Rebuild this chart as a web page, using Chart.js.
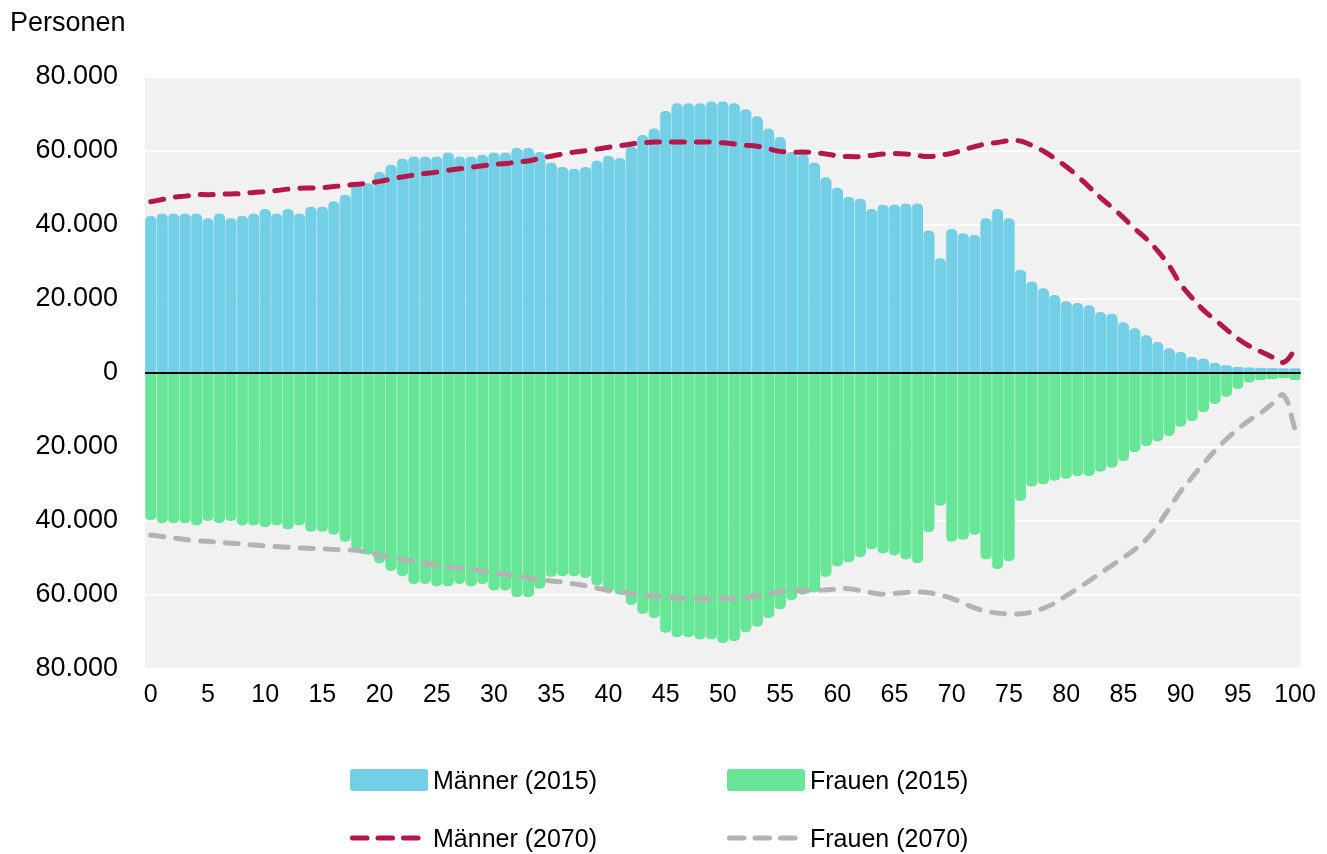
<!DOCTYPE html>
<html>
<head>
<meta charset="utf-8">
<script src="https://cdn.jsdelivr.net/npm/chart.js@4.4.1/dist/chart.umd.min.js"></script>
<style>
  html, body { margin: 0; padding: 0; background: #fff; }
  body { width: 1327px; height: 854px; position: relative; overflow: hidden;
         font-family: "Liberation Sans", Arial, Helvetica, sans-serif; color: #000; }
  #wrap { position: absolute; left: 0; top: 0; width: 1327px; height: 854px; }
  .lg { position: absolute; font-size: 25px; line-height: 28px; white-space: nowrap; }
  .box { position: absolute; width: 78px; height: 22px; border-radius: 3px; }
  .ln { position: absolute; width: 80px; height: 10px; }
</style>
</head>
<body>
<div id="wrap"><canvas id="c" width="1327" height="854"></canvas></div>

<div class="box" id="b1" style="left:350px; top:769px;"></div>
<div class="lg" id="t1" style="left:433px; top:766px;"></div>
<div class="box" id="b2" style="left:727px; top:769px;"></div>
<div class="lg" id="t2" style="left:810px; top:766px;"></div>
<svg class="ln" id="l3" style="left:348px; top:833px;" width="80" height="10"></svg>
<div class="lg" id="t3" style="left:433px; top:824px;"></div>
<svg class="ln" id="l4" style="left:725px; top:833px;" width="80" height="10"></svg>
<div class="lg" id="t4" style="left:810px; top:824px;"></div>

<script>
// ---------- data ----------
const ages = Array.from({length: 101}, (_, i) => String(i));

const men2015 = [42400,43100,43100,43100,43100,41800,43100,41800,42500,43100,
  44300,43100,44300,43100,44900,44900,46400,48200,51100,51300,
  54300,56300,57900,58500,58500,58500,59600,58500,58500,59000,
  59600,59600,60800,60800,59700,56900,55700,55200,55700,57400,
  58700,58100,61300,64300,66100,70800,72900,72900,72900,73400,
  73400,72900,71300,69400,66100,63800,59700,59200,56900,52900,
  50100,47600,47100,44300,45500,45500,45800,45800,38500,31000,
  38900,37800,37300,41800,44300,41800,27900,24700,22900,21100,
  19400,18900,18300,16500,16000,13700,12100,10200,8400,6700,
  5700,4400,3900,2800,2100,1600,1500,1400,1400,1300,1300];

const women2015 = [39800,40600,40600,40600,41200,40000,40600,40000,41200,41200,
  41700,41200,42300,41200,42900,42900,43700,45600,47700,49100,
  51400,53500,54900,57000,57000,57700,57700,57000,57700,57000,
  58800,58800,60600,60600,58300,55100,54900,54900,55400,57400,
  59300,59900,62700,65100,66200,70200,71400,71400,72000,72000,
  73000,72500,70100,68600,66200,63900,61400,59900,59300,55100,
  52300,51200,49800,47700,48800,49300,50400,51400,43000,35900,
  45600,45100,43700,50400,53000,50900,34600,30700,30100,29100,
  28600,27900,27900,26700,25600,23800,21400,19800,18500,17000,
  14500,13000,10600,8400,6400,4300,2600,1900,1700,1400,1900];

const men2070 = [46300,46900,47500,47800,48200,48200,48300,48400,48500,48800,
  49000,49300,49700,49900,50000,50100,50400,50700,51000,51300,
  51800,52400,53000,53500,53900,54300,54800,55200,55600,56000,
  56400,56600,57000,57300,58000,58600,59200,59700,60100,60500,
  61000,61400,61900,62200,62400,62400,62400,62400,62400,62400,
  62200,61900,61600,61300,60600,59900,59700,59700,59600,59200,
  58700,58500,58500,58800,59200,59300,59200,58800,58500,58900,
  59400,60300,61200,61900,62300,62800,62700,61500,60000,58000,
  55800,53200,50300,47400,44800,42000,39000,36300,33000,29000,
  24000,20300,17000,14400,11800,9300,7300,5800,4300,2900,6200];

const women2070 = [43800,44200,44600,45000,45300,45500,45800,46000,46200,46500,
  46700,46900,47100,47300,47400,47500,47700,47800,47900,48600,
  49300,49800,50400,50900,51400,52000,52500,52800,53200,53500,
  54000,54400,54900,55300,55800,56200,56500,57000,57500,58100,
  58800,59200,59600,60000,60300,60500,60800,61000,61000,61000,
  61000,60900,60600,60200,59700,59100,58900,58800,58800,58600,
  58400,58300,58800,59400,59800,59600,59300,59200,59400,60000,
  60900,62200,63500,64400,64900,65100,65100,64600,63600,62200,
  60200,58300,56200,54100,52000,49900,47700,45000,41200,36600,
  32000,28200,24500,21000,17900,15200,12800,10800,8300,6000,15200];

const seriesNames = ['Männer (2015)', 'Frauen (2015)', 'Männer (2070)', 'Frauen (2070)'];
const yTicks = [-80000, -60000, -40000, -20000, 0, 20000, 40000, 60000, 80000];
const axisTitle = 'Personen';

// ---------- styles ----------
const COL_M15 = '#72cfe5', COL_F15 = '#68e698', COL_M70 = '#b5174b', COL_F70 = '#b3b3b3';
const FONT = '"Liberation Sans", Arial, Helvetica, sans-serif';

function fmt(v) {
  return Math.abs(v).toString().replace(/\B(?=(\d{3})+(?!\d))/g, '.');
}

const bgPlugin = {
  id: 'plotBg',
  beforeDraw(chart) {
    const {ctx, chartArea: a} = chart;
    ctx.save();
    ctx.fillStyle = '#f1f1f1';
    ctx.fillRect(a.left, a.top, a.right - a.left, a.bottom - a.top);
    ctx.restore();
  },
  afterDatasetDraw(chart, args) {
    if (args.index !== 2) return;
    const {ctx, chartArea: a} = chart;
    const y = chart.scales.y.getPixelForValue(0);
    ctx.save();
    ctx.strokeStyle = '#000';
    ctx.lineWidth = 2;
    ctx.beginPath();
    ctx.moveTo(a.left, y);
    ctx.lineTo(a.right, y);
    ctx.stroke();
    ctx.restore();
  }
};

const lineDs = (label, data, color) => ({
  type: 'line', label, data, borderColor: color, backgroundColor: color,
  borderWidth: 5, borderDash: [13, 12], borderCapStyle: 'round', borderJoinStyle: 'round',
  pointRadius: 0, pointHoverRadius: 0, tension: 0.4, fill: false
});

const barDs = (label, data, color, sep) => ({
  type: 'bar', label, data, backgroundColor: color, borderColor: sep,
  borderWidth: {left: 1, right: 0, top: 0, bottom: 0},
  borderSkipped: 'start', borderRadius: 5, grouped: false,
  barPercentage: 1, categoryPercentage: 1
});

new Chart(document.getElementById('c'), {
  type: 'bar',
  data: {
    labels: ages,
    datasets: [
      lineDs(seriesNames[2], men2070, COL_M70),
      lineDs(seriesNames[3], women2070.map(v => -v), COL_F70),
      barDs(seriesNames[0], men2015, COL_M15, '#a3e0ef'),
      barDs(seriesNames[1], women2015.map(v => -v), COL_F15, '#9df0bd')
    ]
  },
  options: {
    responsive: false,
    animation: false,
    layout: { padding: { left: 10, right: 25, top: 0, bottom: 145 } },
    plugins: {
      legend: { display: false },
      tooltip: { enabled: false },
      title: {
        display: true, text: axisTitle, align: 'start', color: '#000',
        font: { family: FONT, size: 27, weight: 'normal', lineHeight: 1.2 },
        padding: { top: 7, bottom: 37.6 }
      }
    },
    scales: {
      x: {
        grid: { display: false, drawTicks: false },
        border: { display: false },
        ticks: {
          autoSkip: false, maxRotation: 0, minRotation: 0, padding: 11, color: '#000',
          font: { family: FONT, size: 25 },
          callback: (v, i) => (i % 5 === 0 ? ages[i] : '')
        },
        afterFit: s => { s.height = 40; }
      },
      y: {
        min: yTicks[0], max: yTicks[yTicks.length - 1],
        afterBuildTicks: s => { s.ticks = yTicks.map(v => ({value: v})); },
        grid: { color: '#ffffff', lineWidth: 2, drawTicks: false },
        border: { display: false },
        ticks: {
          padding: 27, color: '#000',
          font: { family: FONT, size: 27 },
          callback: v => fmt(v)
        },
        afterFit: s => { s.width = 135; }
      }
    }
  },
  plugins: [bgPlugin]
});

// ---------- HTML legend ----------
document.getElementById('b1').style.background = COL_M15;
document.getElementById('b2').style.background = COL_F15;
document.getElementById('t1').textContent = seriesNames[0];
document.getElementById('t2').textContent = seriesNames[1];
document.getElementById('t3').textContent = seriesNames[2];
document.getElementById('t4').textContent = seriesNames[3];
function dashSample(id, color) {
  const svg = document.getElementById(id);
  const ns = 'http://www.w3.org/2000/svg';
  const l = document.createElementNS(ns, 'line');
  l.setAttribute('x1', 4.5); l.setAttribute('x2', 70); l.setAttribute('y1', 5); l.setAttribute('y2', 5);
  l.setAttribute('stroke', color); l.setAttribute('stroke-width', 5);
  l.setAttribute('stroke-linecap', 'round'); l.setAttribute('stroke-dasharray', '14.5 11');
  svg.appendChild(l);
}
dashSample('l3', COL_M70);
dashSample('l4', COL_F70);
</script>
</body>
</html>
